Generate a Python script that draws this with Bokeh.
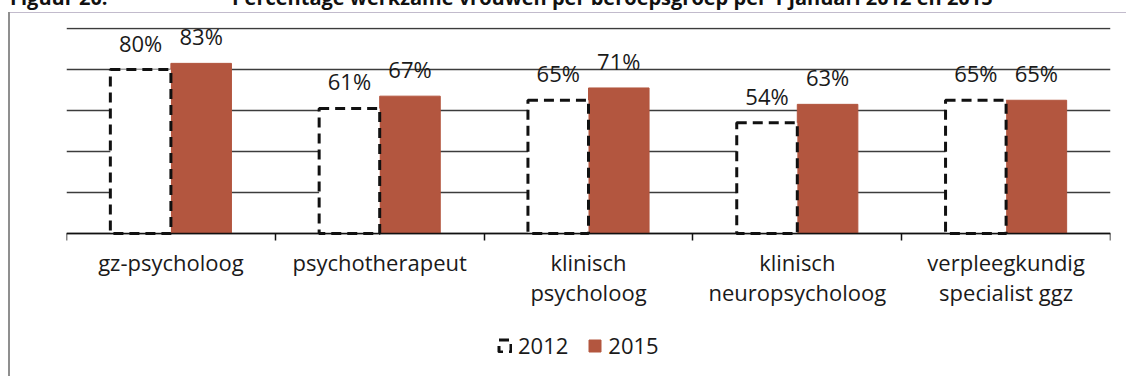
from bokeh.plotting import figure
from bokeh.models import (ColumnDataSource, LinearAxis, FixedTicker, LabelSet,
                          Legend, LegendItem, Div)
from bokeh.core.properties import value
from bokeh.transform import dodge
from bokeh.layouts import column
from bokeh.embed import file_html
from bokeh.resources import INLINE

# Percentage of women working, per professional group
categories = ["gz-psycholoog", "psychotherapeut", "klinisch\npsycholoog",
              "klinisch\nneuropsycholoog", "verpleegkundig\nspecialist ggz"]
years = ["2012", "2015"]
pct_2012 = [80, 61, 65, 54, 65]
pct_2015 = [83, 67, 71, 63, 65]
grid_ticks = [0, 20, 40, 60, 80, 100]

caption_no = "Figuur 20."
caption = "Percentage werkzame vrouwen per beroepsgroep per 1 januari 2012 en 2015"

FONT = "Open Sans"
BAR_RED = "#b3563f"
TEXT = "#1a1a1a"
BAR_W = 0.29

n = len(categories)
centers = [i + 0.5 for i in range(n)]
bounds = list(range(n + 1))

src12 = ColumnDataSource(dict(x=centers, y=pct_2012, label=[f"{v}%" for v in pct_2012]))
src15 = ColumnDataSource(dict(x=centers, y=pct_2015, label=[f"{v}%" for v in pct_2015]))

# thin outer box (left and top rules) drawn behind the transparent canvas
box_css = {
    "background-image": ("linear-gradient(#8f8f8f,#8f8f8f), "
                         "linear-gradient(#c2bbcc,#c2bbcc)"),
    "background-size": "2px 364px, 1117px 1px",
    "background-position": "8px 0px, 9px 0px",
    "background-repeat": "no-repeat",
}

# the plotting area reaches below zero so the category names and the
# legend sit inside it; the axes are pinned to y = 0
p = figure(width=1126, height=364, x_range=(0, n), y_range=(-64.9, 100.5),
           output_backend="svg", toolbar_location=None,
           x_axis_location=None, y_axis_location=None,
           min_border_left=66, min_border_right=16, min_border_top=15,
           min_border_bottom=10, outline_line_color=None,
           background_fill_color=None, border_fill_color=None, styles=box_css)

# horizontal gridlines
p.xgrid.visible = False
p.ygrid.ticker = FixedTicker(ticks=grid_ticks)
p.ygrid.grid_line_color = "#3c3c3c"
p.ygrid.grid_line_width = 1.5

# bars: 2015 solid, 2012 as a dashed outline
r15 = p.vbar(x=dodge("x", BAR_W / 2, range=p.x_range), top="y", bottom=0, width=BAR_W,
             source=src15, fill_color=BAR_RED, line_color=BAR_RED, line_width=1)
r12 = p.vbar(x=dodge("x", -BAR_W / 2, range=p.x_range), top="y", bottom=0, width=BAR_W,
             source=src12, fill_color="white", line_color="#111111",
             line_width=3, line_dash="10 6")

# value labels
for src, off in ((src12, -BAR_W / 2), (src15, BAR_W / 2)):
    p.add_layout(LabelSet(x=dodge("x", off, range=p.x_range), y="y", text="label",
                          source=src, y_offset=18, text_align="center",
                          text_baseline="alphabetic", text_font=value(FONT),
                          text_font_size=value("22px"), text_color=TEXT))

# axis with tick marks at the group boundaries
base_axis = LinearAxis(fixed_location=0, ticker=FixedTicker(ticks=bounds),
                       major_label_overrides={b: "" for b in bounds},
                       major_label_standoff=0, major_tick_in=0, major_tick_out=7,
                       minor_tick_line_color=None, axis_line_color="#111111",
                       axis_line_width=1.5, major_tick_line_color="#111111",
                       major_tick_line_width=1.5)
p.add_layout(base_axis, "below")

# category names centred under each group
cat_axis = LinearAxis(fixed_location=0, ticker=FixedTicker(ticks=centers),
                      major_label_overrides={c: name for c, name in zip(centers, categories)},
                      axis_line_color=None, major_tick_line_color=None,
                      minor_tick_line_color=None, major_label_standoff=8,
                      major_label_text_font=FONT, major_label_text_font_size="22px",
                      major_label_text_line_height=1.0,
                      major_label_text_color=TEXT)
p.add_layout(cat_axis, "below")

legend = Legend(items=[LegendItem(label=years[0], renderers=[r12]),
                       LegendItem(label=years[1], renderers=[r15])],
                orientation="horizontal", location=(431, 6),
                border_line_color=None, background_fill_alpha=0,
                label_text_font=FONT, label_text_font_size="22px",
                label_text_color=TEXT, glyph_width=15, glyph_height=15,
                label_standoff=6, spacing=19, padding=0, margin=0)
p.add_layout(legend, "center")

# figure caption, of which only the lower edge falls inside the page
span_css = "position:absolute;top:-12px;line-height:20px;white-space:nowrap;"
caption_div = Div(
    text=(f'<div style="position:relative;width:1126px;height:12px;overflow:hidden;'
          f'font-family:\'Open Sans\';font-weight:bold;font-size:20px;color:#111;">'
          f'<span style="{span_css}left:10px;">{caption_no}</span>'
          f'<span style="{span_css}left:232px;">{caption}</span></div>'),
    width=1126, height=12, margin=(0, 0, 0, 0), styles={"overflow": "hidden"})

layout = column(caption_div, p, spacing=0)

open("out.html", "w").write(file_html(layout, INLINE))
